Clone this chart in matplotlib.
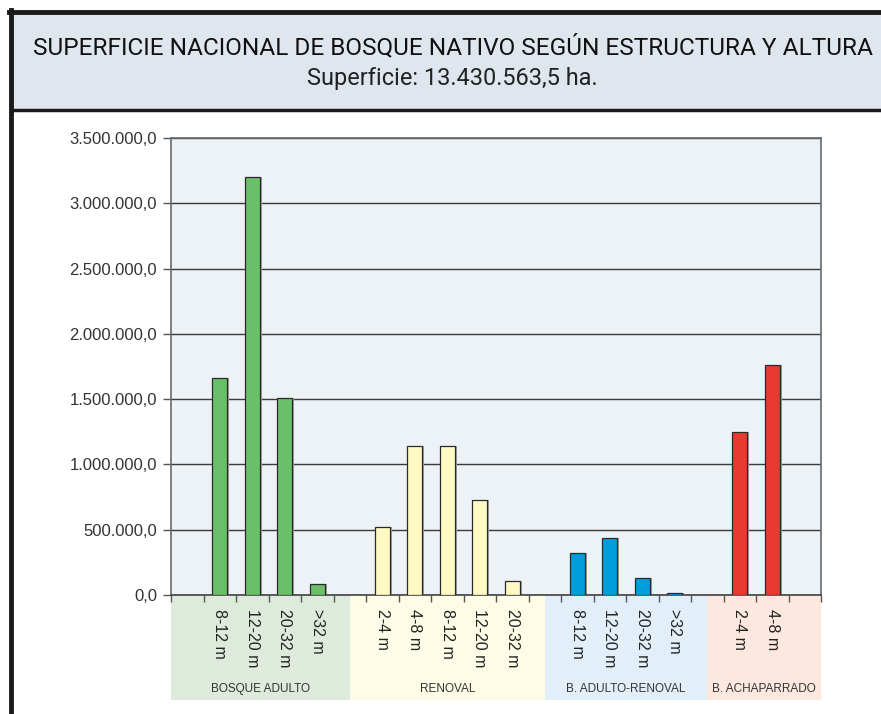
import matplotlib
matplotlib.use("Agg")
import matplotlib.pyplot as plt
from matplotlib.patches import Rectangle
from matplotlib import font_manager as fm

# ---------------- data ----------------
groups = ["BOSQUE ADULTO", "RENOVAL", "B. ADULTO-RENOVAL", "B. ACHAPARRADO"]
adulto_labels = ["8-12 m", "12-20 m", "20-32 m", ">32 m"]
adulto_values = [1660000, 3205000, 1505000, 87000]
renoval_labels = ["2-4 m", "4-8 m", "8-12 m", "12-20 m", "20-32 m"]
renoval_values = [519000, 1139000, 1139000, 725000, 105000]
adren_labels = ["8-12 m", "12-20 m", "20-32 m", ">32 m"]
adren_values = [320000, 440000, 128000, 15000]
achap_labels = ["2-4 m", "4-8 m"]
achap_values = [1250000, 1760000]
y_ticks = [0, 500000, 1000000, 1500000, 2000000, 2500000, 3000000, 3500000]
title = "SUPERFICIE NACIONAL DE BOSQUE NATIVO SEGÚN ESTRUCTURA Y ALTURA"
subtitle = "Superficie: 13.430.563,5 ha."

bar_colors = ["#6abf69", "#fff9c4", "#009ddc", "#e83a30"]
band_colors = ["#deebdc", "#fefbe6", "#e2eff9", "#fce8df"]

names = {f.name for f in fm.fontManager.ttflist}
head = "Roboto" if "Roboto" in names else "DejaVu Sans"
sans = "Liberation Sans" if "Liberation Sans" in names else "DejaVu Sans"

W, H = 881, 714
fig = plt.figure(figsize=(W / 100, H / 100), dpi=100)
fig.patch.set_facecolor("white")

def fx(px):
    return px / W

def fy(py):
    return 1 - py / H

# frame + title box
fig.add_artist(Rectangle((fx(13), fy(110)), fx(W) - fx(13), fy(14) - fy(110),
                         transform=fig.transFigure, facecolor="#dfe6ee", edgecolor="none"))
fig.add_artist(plt.Line2D([fx(10.5), fx(10.5)], [0, fy(10)], transform=fig.transFigure,
                          color="#1a1a1a", lw=3.5))
fig.add_artist(plt.Line2D([fx(9), 1], [fy(12), fy(12)], transform=fig.transFigure,
                          color="#1a1a1a", lw=3.5))
fig.add_artist(plt.Line2D([fx(12), 1], [fy(110), fy(110)], transform=fig.transFigure,
                          color="#1a1a1a", lw=2.5))

renderer = fig.canvas.get_renderer()

def fitted(xc, yc, s, target_w, size, **kw):
    t = fig.text(fx(xc), fy(yc), s, ha="center", va="center", fontsize=size, **kw)
    w = t.get_window_extent(renderer).width
    t.set_fontsize(size * target_w / w)
    return t

fitted(453, 47, title, 845, 17, family=head, color="#111111")
fitted(452, 78, subtitle, 292, 14, family=head, color="#222222")

# axes
ax = fig.add_axes([fx(171), fy(595), fx(821) - fx(171), fy(138) - fy(595)])
ax.set_facecolor("#edf2f7")

all_groups = [
    (adulto_labels, adulto_values),
    (renoval_labels, renoval_values),
    (adren_labels, adren_values),
    (achap_labels, achap_values),
]

pos = 0
band_edges = [-0.5]
for gi, (labs, vals) in enumerate(all_groups):
    pos += 1
    xs = list(range(pos, pos + len(labs)))
    ax.bar([x + 0.06 for x in xs], vals, width=0.45, color="#a0a0a0", zorder=2, linewidth=0)
    ax.bar(xs, vals, width=0.45, color=bar_colors[gi], edgecolor="#2a2a2a",
           linewidth=0.9, zorder=3)
    for x, lab in zip(xs, labs):
        ax.text(x, -0.03, lab, rotation=-90, ha="center", va="top",
                transform=ax.get_xaxis_transform(), fontsize=11.5, family=sans,
                color="#222222", clip_on=False, zorder=5)
    pos += len(labs)
    band_edges.append(pos)  # middle of the empty slot
band_edges[-1] = 19.5

# bands beneath the axis
band_h = 105 / 457
for gi in range(4):
    x0 = band_edges[gi]
    x1 = band_edges[gi + 1]
    ax.add_patch(Rectangle((x0, -band_h), x1 - x0, band_h,
                           transform=ax.get_xaxis_transform(), facecolor=band_colors[gi],
                           edgecolor="none", clip_on=False, zorder=0))
    ax.text((x0 + x1) / 2, -band_h + 0.025, groups[gi], ha="center", va="center",
            transform=ax.get_xaxis_transform(), fontsize=8.5, family=sans,
            color="#333333", clip_on=False)

ax.set_xlim(-0.5, 19.5)
ax.set_ylim(0, 3500000)
ax.set_yticks(y_ticks)
ax.set_yticklabels([f"{v:,.1f}".replace(",", "X").replace(".", ",").replace("X", ".")
                    for v in y_ticks], fontsize=12, family=sans, color="#333333")
ax.set_xticks([i - 0.5 for i in range(21)])
ax.set_xticklabels([])
ax.tick_params(axis="y", direction="out", length=6, width=1, color="#555555", pad=4)
ax.tick_params(axis="x", direction="out", length=5, width=1, color="#555555")
ax.yaxis.grid(True, color="#3a3a3a", linewidth=1.0, zorder=1)
ax.set_axisbelow(True)
for s in ["left", "right", "top"]:
    ax.spines[s].set_color("#6a6a6a")
    ax.spines[s].set_linewidth(1.2)
ax.spines["bottom"].set_color("#444444")
ax.spines["bottom"].set_linewidth(1.2)

fig.savefig("out.png", dpi=100)
